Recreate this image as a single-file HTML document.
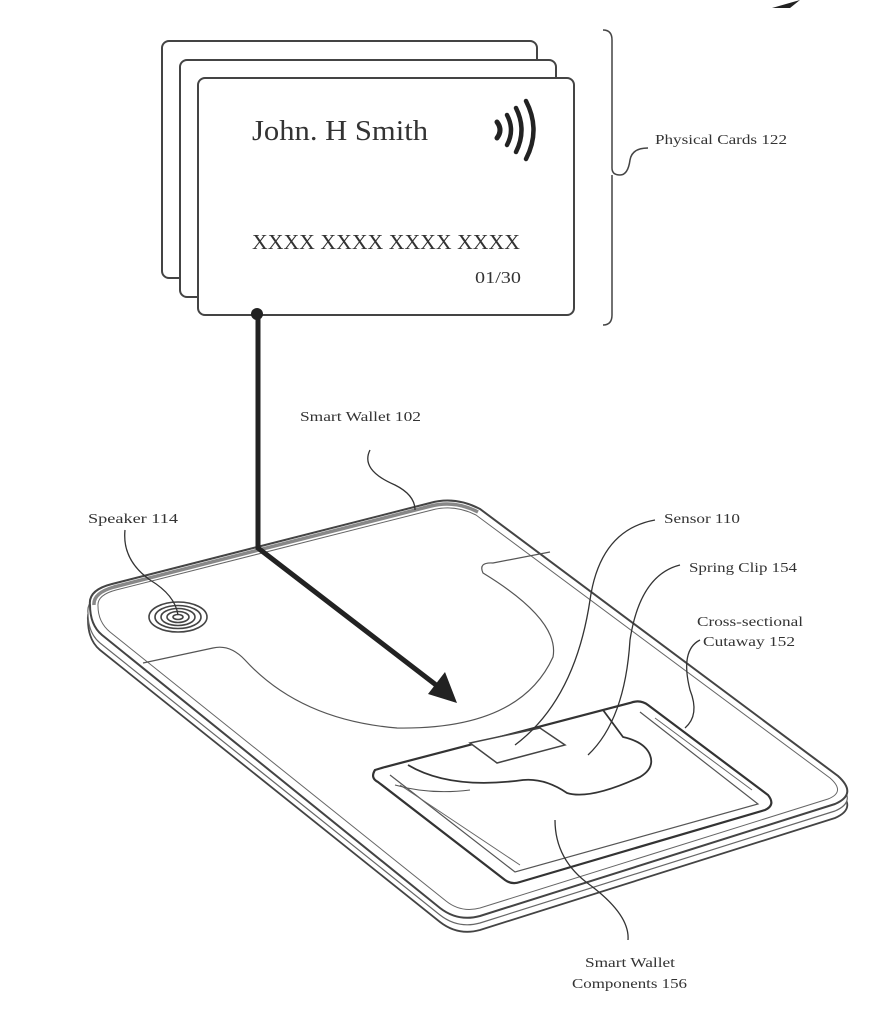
<!DOCTYPE html>
<html><head><meta charset="utf-8"><style>
html,body{margin:0;padding:0;background:#fff}
svg{display:block}
text{font-family:"Liberation Serif",serif;fill:#333}
</style></head><body>
<svg width="896" height="1024" viewBox="0 0 896 1024" xmlns="http://www.w3.org/2000/svg">
<rect width="896" height="1024" fill="#fff"/>
<path d="M772,8 L800,0 L790,8 Z" fill="#222"/>
<g fill="#fff" stroke="#444" stroke-width="2">
<rect x="162" y="41" width="375" height="237" rx="7"/>
<rect x="180" y="60" width="376" height="237" rx="7"/>
<rect x="198" y="78" width="376" height="237" rx="7"/>
</g>
<text x="252" y="140" font-size="28" textLength="176" lengthAdjust="spacingAndGlyphs">John. H Smith</text>
<text x="252" y="249" font-size="21" textLength="268" lengthAdjust="spacingAndGlyphs">XXXX XXXX XXXX XXXX</text>
<text x="475" y="283" font-size="17" textLength="46" lengthAdjust="spacingAndGlyphs">01/30</text>
<g fill="none" stroke="#222" stroke-linecap="round">
<path d="M497,122 Q503,130 497,138" stroke-width="5"/>
<path d="M507,115 Q515,130 507,145" stroke-width="4.5"/>
<path d="M516,108 Q527,130 516,152" stroke-width="4.5"/>
<path d="M526,101 Q541,130 526,159" stroke-width="4.5"/>
</g>
<path d="M603,30 Q612,30 612,40 L612,168 Q612,175 620,175 Q628,175 630,160 Q632,148 648,148 M612,175 L612,315 Q612,325 603,325" fill="none" stroke="#444" stroke-width="1.5"/>
<text x="655" y="144" font-size="14" textLength="132" lengthAdjust="spacingAndGlyphs">Physical Cards 122</text>
<path d="M88,620 Q86,605 110,598 L430,517 Q455,510 480,523 L838,790 Q858,808 835,818 L480,930 Q458,936 440,922 L100,650 Q88,640 88,620 Z" fill="#fff" stroke="#444" stroke-width="1.8"/>
<path d="M88,613 Q86,598 110,591 L430,510 Q455,503 480,516 L838,783 Q858,801 835,811 L480,923 Q458,929 440,915 L100,643 Q88,633 88,613 Z" fill="#fff" stroke="#666" stroke-width="1.2"/>
<path d="M90,605 Q88,590 112,584 L430,503 Q455,496 480,509 L838,776 Q858,794 835,804 L480,916 Q458,922 440,908 L102,635 Q90,625 90,605 Z" fill="#fff" stroke="#444" stroke-width="2"/>
<path d="M94,605 Q93,593 114,587 L431,506 Q455,500 478,512" fill="none" stroke="#888" stroke-width="3.5"/>
<path d="M98,606 Q97,595 116,590 L432,510 Q454,504 476,515 L830,778 Q846,792 828,799 L480,908 Q461,913 446,901 L110,632 Q98,622 98,606 Z" fill="none" stroke="#666" stroke-width="1"/>
<path d="M143,663 L213,648 Q230,644 245,660 Q300,720 397,728 Q520,730 553,657 Q560,620 483,573 Q478,562 493,563 L550,552" fill="none" stroke="#555" stroke-width="1.2"/>
<g fill="none" stroke="#444" stroke-width="1.6">
<ellipse cx="178" cy="617" rx="29" ry="15"/>
<ellipse cx="178" cy="617" rx="23" ry="11.5"/>
<ellipse cx="178" cy="617" rx="17" ry="8.5"/>
<ellipse cx="178" cy="617" rx="11" ry="5.5"/>
<ellipse cx="178" cy="617" rx="5" ry="2.5"/>
</g>
<path d="M375,770 Q370,778 378,782 L505,880 Q512,885 520,882 L765,810 Q776,805 768,795 L648,705 Q640,699 630,703 L385,767 Z" fill="#fff" stroke="#333" stroke-width="2.2"/>
<path d="M390,775 L515,872 L758,804 L640,712" fill="none" stroke="#555" stroke-width="1.2"/>
<path d="M400,785 L520,865 M655,718 L752,790" fill="none" stroke="#666" stroke-width="1"/>
<path d="M470,743 L540,728 L565,745 L497,763 Z" fill="#fff" stroke="#444" stroke-width="1.5"/>
<path d="M408,765 Q450,790 523,780 Q545,778 567,793 Q590,800 640,777 Q655,768 650,755 Q645,742 623,737 L603,710" fill="none" stroke="#333" stroke-width="1.8"/>
<path d="M395,785 Q430,795 470,790" fill="none" stroke="#555" stroke-width="1"/>
<circle cx="257" cy="314" r="6" fill="#222"/>
<path d="M258,314 L258,548 L440,688" fill="none" stroke="#222" stroke-width="5"/>
<path d="M457,703 L428,694 L445,672 Z" fill="#222"/>
<g fill="none" stroke="#333" stroke-width="1.3">
<path d="M370,450 Q360,470 395,485 Q415,495 415,510"/>
<path d="M125,530 Q122,560 150,580 Q175,595 178,615"/>
<path d="M655,520 Q600,530 590,600 Q575,700 515,745"/>
<path d="M680,565 Q640,575 630,640 Q625,720 588,755"/>
<path d="M700,640 Q680,650 690,690 Q700,715 685,728"/>
<path d="M555,820 Q555,860 590,885 Q630,915 628,940"/>
</g>
<text x="300" y="421" font-size="14" textLength="121" lengthAdjust="spacingAndGlyphs">Smart Wallet 102</text>
<text x="88" y="523" font-size="14" textLength="90" lengthAdjust="spacingAndGlyphs">Speaker 114</text>
<text x="664" y="523" font-size="14" textLength="76" lengthAdjust="spacingAndGlyphs">Sensor 110</text>
<text x="689" y="572" font-size="14" textLength="108" lengthAdjust="spacingAndGlyphs">Spring Clip 154</text>
<text x="697" y="626" font-size="14" textLength="106" lengthAdjust="spacingAndGlyphs">Cross-sectional</text>
<text x="703" y="646" font-size="14" textLength="92" lengthAdjust="spacingAndGlyphs">Cutaway 152</text>
<text x="585" y="967" font-size="14" textLength="90" lengthAdjust="spacingAndGlyphs">Smart Wallet</text>
<text x="572" y="988" font-size="14" textLength="115" lengthAdjust="spacingAndGlyphs">Components 156</text>
</svg>
</body></html>
